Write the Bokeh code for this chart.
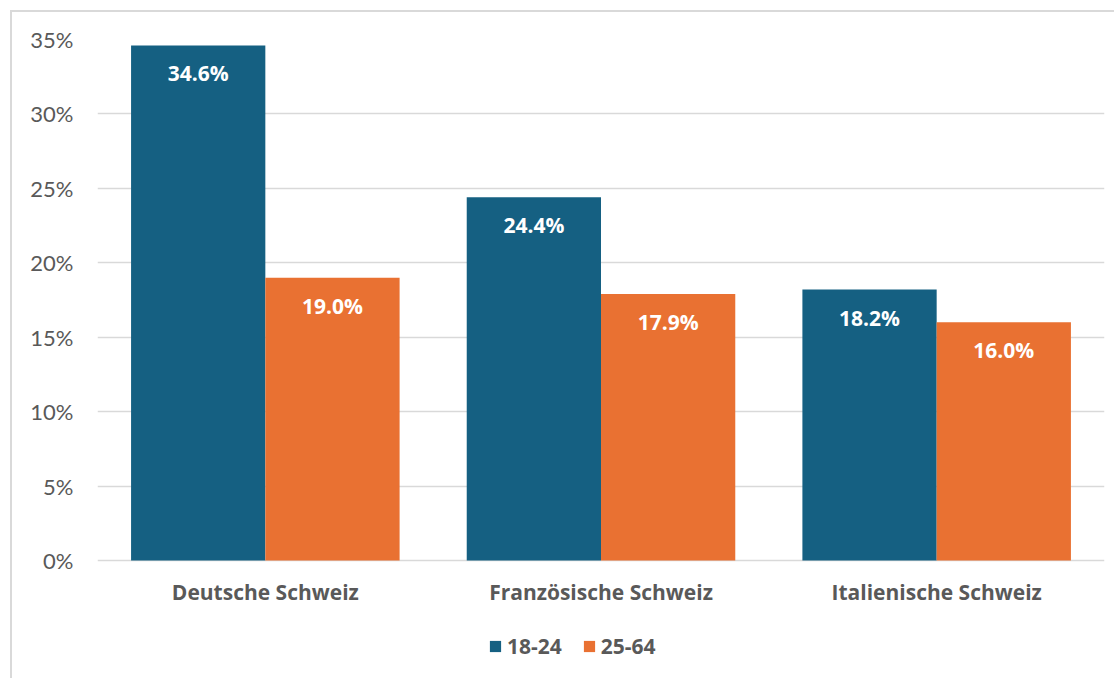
from bokeh.plotting import figure
from bokeh.models import ColumnDataSource, Legend, LegendItem, PrintfTickFormatter, FixedTicker
from bokeh.transform import dodge
from bokeh.core.properties import value
from bokeh.embed import file_html
from bokeh.resources import INLINE

regions = ["Deutsche Schweiz", "Französische Schweiz", "Italienische Schweiz"]
series_names = ["18-24", "25-64"]
vals_18_24 = [34.6, 24.4, 18.2]
vals_25_64 = [19.0, 17.9, 16.0]
y_ticks = [0, 5, 10, 15, 20, 25, 30, 35]

BLUE = "#156082"
ORANGE = "#E97132"
GREY = "#595959"
GRID = "#d9d9d9"
FONT = "Lato"
BFONT = "Open Sans"

# layout (pixels)
FIG_H = 668
TOP = 27
PLOT_PX = 521          # 0% .. 35%
BELOW_PX = FIG_H - TOP - PLOT_PX
y_max = 35
y_min = -y_max * BELOW_PX / PLOT_PX

src = ColumnDataSource(dict(
    region=regions,
    a=vals_18_24,
    b=vals_25_64,
    a_lbl=[f"{v:.1f}%" for v in vals_18_24],
    b_lbl=[f"{v:.1f}%" for v in vals_25_64],
    base=[0] * len(regions),
))

p = figure(
    x_range=regions, y_range=(y_min, y_max),
    width=1104, height=FIG_H,
    output_backend="svg", toolbar_location=None,
    min_border_left=85, min_border_right=12, min_border_top=TOP, min_border_bottom=0,
    styles={"border-left": "2px solid #d9d9d9", "border-top": "2px solid #d9d9d9",
            "margin-left": "10px", "margin-top": "10px"},
)
p.x_range.range_padding = 0
p.outline_line_color = None
p.background_fill_color = "white"
p.border_fill_color = "white"

ra = p.vbar(x=dodge("region", -0.2, range=p.x_range), top="a", bottom=0, width=0.4, source=src,
            fill_color=BLUE, line_color=None)
rb = p.vbar(x=dodge("region", 0.2, range=p.x_range), top="b", bottom=0, width=0.4, source=src,
            fill_color=ORANGE, line_color=None)

for col, lbl, off in (("a", "a_lbl", -0.2), ("b", "b_lbl", 0.2)):
    p.text(x=dodge("region", off, range=p.x_range), y=col, text=lbl, source=src,
           text_align="center", text_baseline="middle", y_offset=28,
           text_color="white", text_font=value(BFONT), text_font_style="bold",
           text_font_size="21px")

# category labels
p.text(x="region", y="base", text="region", source=src,
       text_align="center", text_baseline="middle", y_offset=31,
       text_color=GREY, text_font=value(BFONT), text_font_style="bold",
       text_font_size="21px")

# axes
p.xaxis.visible = False
p.yaxis.ticker = FixedTicker(ticks=y_ticks)
p.yaxis.formatter = PrintfTickFormatter(format="%d%%")
p.yaxis.axis_line_color = None
p.yaxis.major_tick_line_color = None
p.yaxis.minor_tick_line_color = None
p.yaxis.major_tick_out = 0
p.yaxis.major_tick_in = 0
p.yaxis.minor_tick_out = 0
p.yaxis.major_label_standoff = 24
p.yaxis.major_label_text_font = FONT
p.yaxis.major_label_text_font_size = "22px"
p.yaxis.major_label_text_color = GREY

p.xgrid.grid_line_color = None
p.ygrid.grid_line_color = GRID
p.ygrid.grid_line_width = 1.5

legend = Legend(
    items=[LegendItem(label=series_names[0], renderers=[ra]),
           LegendItem(label=series_names[1], renderers=[rb])],
    orientation="horizontal",
    location=(391, 20),
    glyph_width=14, glyph_height=14,
    label_standoff=5, spacing=20, padding=0, margin=0,
    label_text_font=BFONT, label_text_font_style="bold", label_text_font_size="21px",
    label_text_color=GREY,
    border_line_color=None, background_fill_alpha=0,
)
p.add_layout(legend)

open("out.html", "w").write(file_html(p, INLINE))
